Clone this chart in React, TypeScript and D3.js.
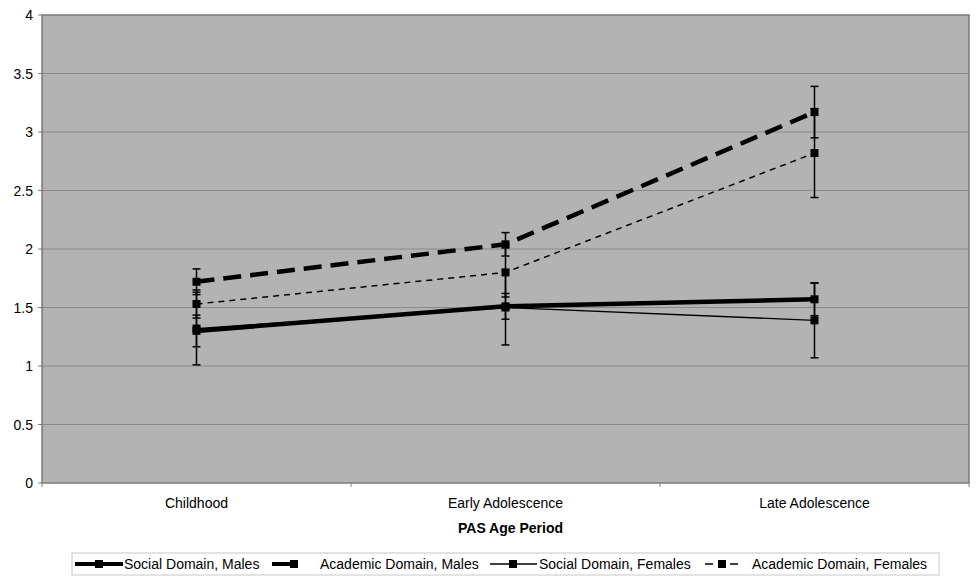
import React from 'react';
import * as d3 from 'd3';

// PAS age periods
const categories = ['Childhood', 'Early Adolescence', 'Late Adolescence'];

// means per series
const socialMales = [1.3, 1.51, 1.57];
const academicMales = [1.72, 2.04, 3.17];
const socialFemales = [1.32, 1.5, 1.39];
const academicFemales = [1.53, 1.8, 2.82];

// error bar half-widths
const socialMalesErr = [0.135, 0.11, 0.14];
const academicMalesErr = [0.11, 0.1, 0.22];
const socialFemalesErr = [0.31, 0.32, 0.32];
const academicFemalesErr = [0.12, 0.21, 0.38];

const yTicks = [0, 0.5, 1, 1.5, 2, 2.5, 3, 3.5, 4];

const seriesNames = [
  'Social Domain, Males',
  'Academic Domain, Males',
  'Social Domain, Females',
  'Academic Domain, Females',
];

const W = 978;
const H = 585;
const margin = { top: 15, right: 9, bottom: 102, left: 42 };
const font = '"Liberation Sans", Arial, sans-serif';

const App = () => {
  const innerW = W - margin.left - margin.right;
  const innerH = H - margin.top - margin.bottom;

  const x = d3.scaleBand().domain(categories).range([0, innerW]);
  const y = d3.scaleLinear().domain([0, 4]).range([innerH, 0]);
  const cx = (c: string) => (x(c) || 0) + x.bandwidth() / 2;

  const series = [
    { name: seriesNames[0], values: socialMales, err: socialMalesErr, width: 4.5, dash: null },
    { name: seriesNames[1], values: academicMales, err: academicMalesErr, width: 4.5, dash: '18,9' },
    { name: seriesNames[2], values: socialFemales, err: socialFemalesErr, width: 1.3, dash: null },
    { name: seriesNames[3], values: academicFemales, err: academicFemalesErr, width: 1.5, dash: '6,5' },
  ];

  const line = d3
    .line<number>()
    .x((d, i) => cx(categories[i]))
    .y((d) => y(d));

  // Excel style tick marks between categories
  const catTicks = [0, 1, 2, 3].map((i) => i * x.step());

  return (
    <div style={{ position: 'absolute', left: 0, top: 0 }}>
      <svg width={W} height={H} style={{ display: 'block', background: '#fff' }} fontFamily={font}>
        <g transform={`translate(${margin.left},${margin.top})`}>
          <rect x={0} y={0} width={innerW} height={innerH} fill="#b3b3b3" />
          {yTicks.map((t) => (
            <g key={t}>
              {t > 0 && t < 4 && (
                <line x1={0} x2={innerW} y1={y(t)} y2={y(t)} stroke="#8a8a8a" strokeWidth={1} />
              )}
              <line x1={-4} x2={0} y1={y(t)} y2={y(t)} stroke="#808080" />
              <text x={-9} y={y(t)} dy="0.36em" textAnchor="end" fontSize={14} fill="#000">
                {t}
              </text>
            </g>
          ))}
          <rect x={0} y={0} width={innerW} height={innerH} fill="none" stroke="#7a7a7a" strokeWidth={1.5} />
          {catTicks.map((t, i) => (
            <line key={i} x1={t} x2={t} y1={innerH} y2={innerH + 4} stroke="#808080" />
          ))}
          {categories.map((c) => (
            <text key={c} x={cx(c)} y={innerH + 25} textAnchor="middle" fontSize={14} fill="#000">
              {c}
            </text>
          ))}
          <text x={innerW / 2 + 5} y={innerH + 50} textAnchor="middle" fontSize={14} fontWeight="bold">
            PAS Age Period
          </text>

          {series.map((s) => (
            <path
              key={s.name}
              d={line(s.values) || ''}
              fill="none"
              stroke="#000"
              strokeWidth={s.width}
              strokeDasharray={s.dash || undefined}
            />
          ))}
          {series.map((s) =>
            s.values.map((v, i) => {
              const px = cx(categories[i]);
              return (
                <g key={s.name + i}>
                  <line x1={px} x2={px} y1={y(v - s.err[i])} y2={y(v + s.err[i])} stroke="#000" strokeWidth={1.5} />
                  <line x1={px - 4} x2={px + 4} y1={y(v - s.err[i])} y2={y(v - s.err[i])} stroke="#000" strokeWidth={1.5} />
                  <line x1={px - 4} x2={px + 4} y1={y(v + s.err[i])} y2={y(v + s.err[i])} stroke="#000" strokeWidth={1.5} />
                  <rect x={px - 4} y={y(v) - 4} width={8} height={8} fill="#000" />
                </g>
              );
            })
          )}
        </g>

        {/* legend */}
        <rect x={72} y={553} width={867} height={22} fill="#fff" stroke="#c8c8c8" strokeWidth={1} />
        <g>
          <line x1={75} x2={123} y1={564} y2={564} stroke="#000" strokeWidth={4} />
          <rect x={95} y={560} width={8} height={8} fill="#000" />
          <text x={124} y={569} fontSize={14}>{seriesNames[0]}</text>

          <line x1={272} x2={298} y1={564} y2={564} stroke="#000" strokeWidth={4} />
          <rect x={290} y={560} width={8} height={8} fill="#000" />
          <text x={320} y={569} fontSize={14}>{seriesNames[1]}</text>

          <line x1={490} x2={537} y1={564} y2={564} stroke="#000" strokeWidth={1.3} />
          <rect x={509} y={560} width={8} height={8} fill="#000" />
          <text x={539} y={569} fontSize={14}>{seriesNames[2]}</text>

          <line x1={705} x2={713} y1={564} y2={564} stroke="#000" strokeWidth={1.5} />
          <rect x={718} y={560} width={8} height={8} fill="#000" />
          <line x1={730} x2={738} y1={564} y2={564} stroke="#000" strokeWidth={1.5} />
          <text x={752} y={569} fontSize={14}>{seriesNames[3]}</text>
        </g>
      </svg>
    </div>
  );
};

export default App;
